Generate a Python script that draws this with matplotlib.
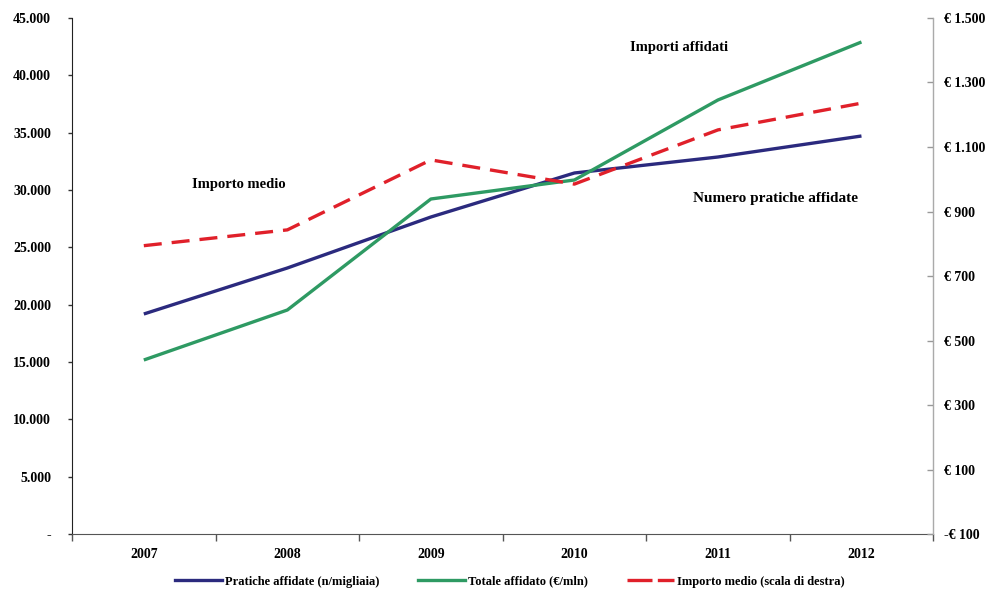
import numpy as np
import matplotlib.pyplot as plt
from matplotlib.ticker import FixedLocator, FuncFormatter
from matplotlib.lines import Line2D

plt.rcParams['font.family'] = ['Liberation Serif', 'DejaVu Serif']
plt.rcParams['font.weight'] = 'bold'

anni = ['2007', '2008', '2009', '2010', '2011', '2012']
pratiche = [19186, 23198, 27645, 31483, 32878, 34709]      # n/migliaia
totale = [15174, 19535, 29215, 30872, 37849, 42907]        # €/mln
importo_medio = [794, 843, 1060, 985, 1153, 1236]          # scala di destra

col_blu = '#2b2a7e'
col_verde = '#2e9a63'
col_rosso = '#e0202a'

fig = plt.figure(figsize=(9.91, 5.9), dpi=100)
ax = fig.add_axes([0.0727, 0.0949, 0.869, 0.8746])
ax2 = ax.twinx()

x = np.arange(len(anni))
ax.plot(x, pratiche, color=col_blu, lw=2.4, solid_capstyle='butt')
ax.plot(x, totale, color=col_verde, lw=2.4, solid_capstyle='butt')
ax2.plot(x, importo_medio, color=col_rosso, lw=2.4, dashes=(5.4, 3.0))

ax.set_xlim(-0.5, 5.5)
ax.set_ylim(0, 45000)
ax2.set_ylim(-100, 1500)

ax.set_yticks(np.arange(0, 45001, 5000))
ax.yaxis.set_major_formatter(FuncFormatter(
    lambda v, p: '-' if v == 0 else f'{int(v):,}'.replace(',', '.')))
ax2.set_yticks(np.arange(-100, 1501, 200))
ax2.yaxis.set_major_formatter(FuncFormatter(
    lambda v, p: f'-€ {abs(int(v))}' if v < 0 else '€ ' + f'{int(v):,}'.replace(',', '.')))

# year labels centred, tick marks on category boundaries
ax.xaxis.set_major_locator(FixedLocator(np.arange(-0.5, 6, 1)))
ax.xaxis.set_minor_locator(FixedLocator(x))
ax.set_xticklabels([])
ax.set_xticklabels(anni, minor=True)
ax.tick_params(axis='x', which='major', direction='out', length=5, width=1, color='#555555')
ax.tick_params(axis='x', which='minor', length=0, pad=10, labelsize=10)

ax.tick_params(axis='y', direction='out', length=3, width=1, color='#333333', labelsize=10, pad=12)
ax2.tick_params(axis='y', direction='in', length=4, width=1, color='#999999', labelsize=10, pad=8)

for a in (ax, ax2):
    a.spines['top'].set_visible(False)
ax.spines['left'].set_color('#222222')
ax.spines['bottom'].set_color('#555555')
ax2.spines['left'].set_visible(False)
ax2.spines['bottom'].set_visible(False)
ax2.spines['right'].set_color('#aaaaaa')

ax.text(0.66, 30500, 'Importo medio', ha='center', va='center', fontsize=10.5)
ax.text(3.73, 42450, 'Importi affidati', ha='center', va='center', fontsize=10.5)
ax.text(4.4, 29300, 'Numero pratiche affidate', ha='center', va='center', fontsize=11)

handles = [Line2D([], [], color=col_blu, lw=2.4),
           Line2D([], [], color=col_verde, lw=2.4),
           Line2D([], [], color=col_rosso, lw=2.4, dashes=(7.5, 1.6))]
labels = ['Pratiche affidate (n/migliaia)', 'Totale affidato (€/mln)',
          'Importo medio (scala di destra)']
fig.legend(handles, labels, loc='center', bbox_to_anchor=(0.5146, 0.014), ncol=3,
           frameon=False, fontsize=9, handlelength=3.76, handletextpad=0.25,
           columnspacing=3.1)

fig.savefig('out.png', dpi=100)
